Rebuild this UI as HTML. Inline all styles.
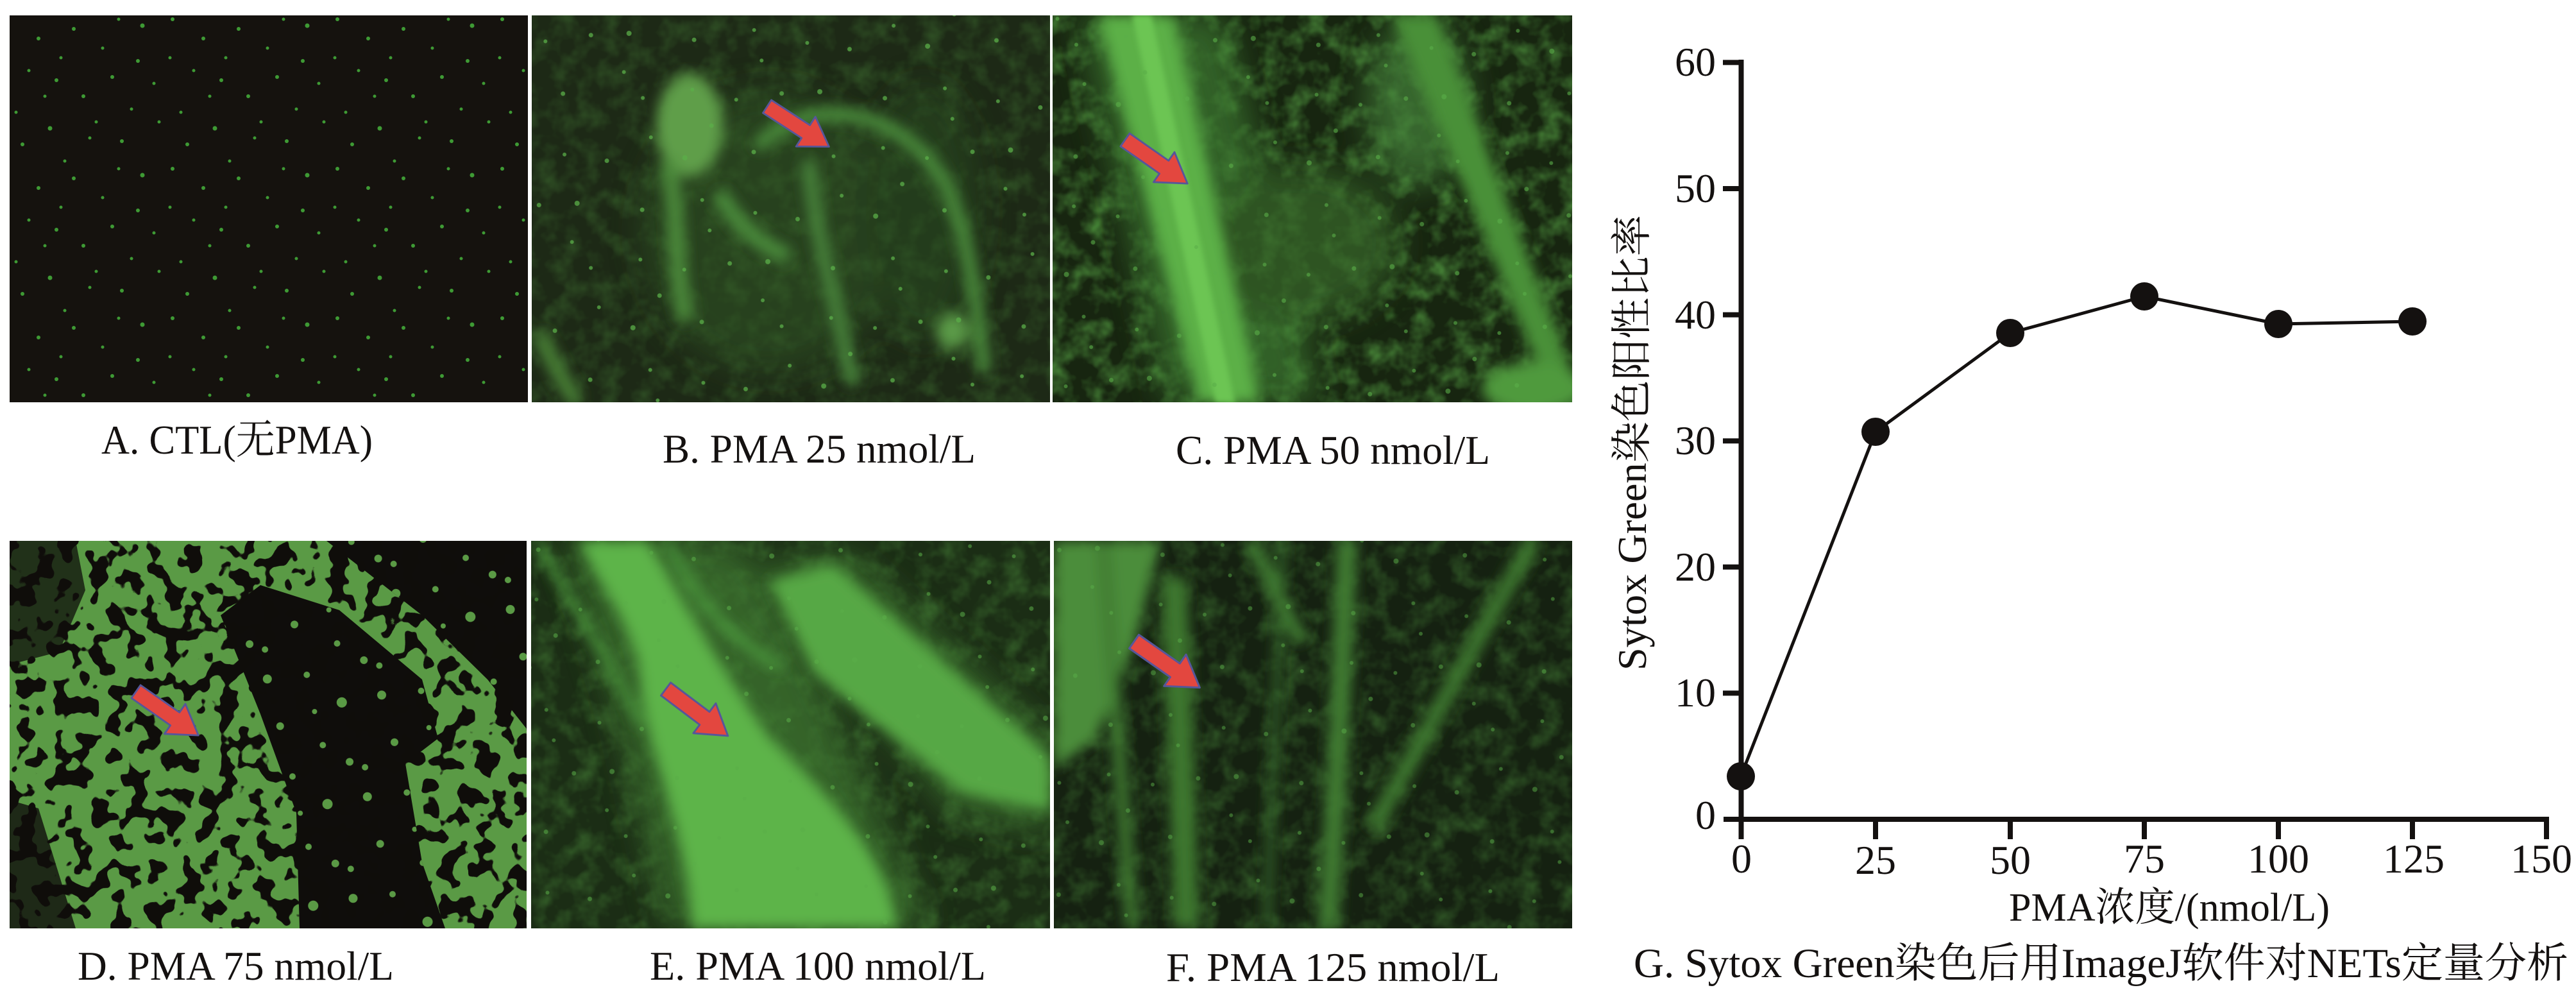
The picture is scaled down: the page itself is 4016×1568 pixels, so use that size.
<!DOCTYPE html>
<html><head><meta charset="utf-8">
<style>
html,body{margin:0;padding:0;background:#ffffff;width:4016px;height:1568px;overflow:hidden;}
svg{display:block;overflow:hidden;}
text{font-family:"Liberation Serif","Noto Serif CJK SC","Noto Sans CJK SC",serif;fill:#141110;}
</style></head><body>
<svg width="4016" height="1568" viewBox="0 0 4016 1568" xmlns="http://www.w3.org/2000/svg" font-family="Liberation Serif, Noto Serif CJK SC, serif">
<defs>
  <clipPath id="cA"><rect x="15" y="24" width="808" height="603"/></clipPath>
  <clipPath id="cB"><rect x="829" y="24" width="808" height="603"/></clipPath>
  <clipPath id="cC"><rect x="1641" y="24" width="810" height="603"/></clipPath>
  <clipPath id="cD"><rect x="15" y="843" width="806" height="604"/></clipPath>
  <clipPath id="cE"><rect x="828" y="843" width="809" height="604"/></clipPath>
  <clipPath id="cF"><rect x="1643" y="843" width="808" height="604"/></clipPath>

  <pattern id="pdA" width="257" height="233" patternUnits="userSpaceOnUse">
    <g fill="#45b23b">
      <circle cx="12" cy="30" r="3"/><circle cx="45" cy="110" r="2.5"/><circle cx="78" cy="200" r="3.5"/>
      <circle cx="101" cy="18" r="2.5"/><circle cx="130" cy="150" r="3"/><circle cx="160" cy="75" r="2.5"/>
      <circle cx="190" cy="220" r="3"/><circle cx="222" cy="40" r="3.5"/><circle cx="240" cy="130" r="2.5"/>
      <circle cx="25" cy="175" r="2.5"/><circle cx="60" cy="60" r="3"/><circle cx="95" cy="90" r="2.5"/>
      <circle cx="140" cy="215" r="2.5"/><circle cx="175" cy="120" r="3"/><circle cx="205" cy="170" r="2.5"/>
      <circle cx="115" cy="45" r="3"/><circle cx="150" cy="190" r="2.5"/><circle cx="35" cy="225" r="3"/>
      <circle cx="70" cy="150" r="2.5"/><circle cx="185" cy="30" r="2.5"/><circle cx="215" cy="95" r="3"/>
      <circle cx="248" cy="190" r="2.5"/><circle cx="88" cy="125" r="3"/><circle cx="8" cy="90" r="2.5"/>
    </g>
  </pattern>
  <pattern id="pdB" width="311" height="277" patternUnits="userSpaceOnUse" patternTransform="rotate(17)">
    <g fill="#5aae48">
      <circle cx="20" cy="40" r="4"/><circle cx="70" cy="130" r="3"/><circle cx="120" cy="20" r="3.5"/>
      <circle cx="160" cy="200" r="4"/><circle cx="210" cy="90" r="3"/><circle cx="260" cy="160" r="3.5"/>
      <circle cx="290" cy="250" r="3"/><circle cx="45" cy="240" r="3.5"/><circle cx="100" cy="185" r="3"/>
      <circle cx="230" cy="20" r="3"/><circle cx="185" cy="140" r="3.5"/><circle cx="140" cy="95" r="3"/>
      <circle cx="30" cy="100" r="3"/><circle cx="275" cy="60" r="3.5"/><circle cx="205" cy="255" r="3"/>
    </g>
  </pattern>
  <pattern id="pdD" width="180" height="160" patternUnits="userSpaceOnUse" patternTransform="rotate(8)">
    <g fill="#5a9a45">
      <circle cx="20" cy="30" r="7"/><circle cx="80" cy="15" r="5"/><circle cx="140" cy="50" r="8"/>
      <circle cx="50" cy="100" r="6"/><circle cx="120" cy="120" r="5"/><circle cx="165" cy="140" r="6"/>
      <circle cx="100" cy="70" r="4"/><circle cx="10" cy="145" r="5"/>
    </g>
  </pattern>

  <filter id="mot" x="0" y="0" width="1" height="1" color-interpolation-filters="sRGB">
    <feTurbulence type="fractalNoise" baseFrequency="0.03" numOctaves="3" seed="2"/>
    <feColorMatrix type="matrix" values="0 0 0 0 0.34  0 0 0 0 0.64  0 0 0 0 0.27  2 0 0 0 -0.8"/>
  </filter>
  <filter id="blotD" x="0" y="0" width="1" height="1" color-interpolation-filters="sRGB">
    <feTurbulence type="fractalNoise" baseFrequency="0.035" numOctaves="2" seed="9"/>
    <feColorMatrix type="matrix" values="0 0 0 0 0.06  0 0 0 0 0.05  0 0 0 0 0.04  40 0 0 0 -21.4"/>
  </filter>
  <filter id="b4" x="-50%" y="-50%" width="200%" height="200%"><feGaussianBlur stdDeviation="4"/></filter>
  <filter id="b10" x="-50%" y="-50%" width="200%" height="200%"><feGaussianBlur stdDeviation="10"/></filter>
  <filter id="b25" x="-50%" y="-50%" width="200%" height="200%"><feGaussianBlur stdDeviation="25"/></filter>

  <polygon id="arrow" points="0,-13 78,-13 78,-30 125,0 78,30 78,13 0,13" fill="#e3473f" stroke="#56569a" stroke-width="3" stroke-linejoin="round"/>
</defs>

<rect x="0" y="0" width="4016" height="1568" fill="#ffffff"/>

<!-- Panel A -->
<g clip-path="url(#cA)">
  <rect x="15" y="24" width="808" height="603" fill="#15120e"/>
  <rect x="15" y="24" width="808" height="603" fill="url(#pdA)" opacity="0.85"/>
</g>

<!-- Panel B -->
<g clip-path="url(#cB)">
  <rect x="829" y="24" width="808" height="603" fill="#1d2916"/>
  <rect x="829" y="24" width="808" height="603" fill="#000" filter="url(#mot)" opacity="0.3"/>
  <g filter="url(#b25)" opacity="0.5">
    <ellipse cx="1200" cy="360" rx="200" ry="220" fill="#335a27"/>
    <ellipse cx="1440" cy="330" rx="90" ry="200" fill="#2c5022"/>
  </g>
  <g filter="url(#b10)">
    <ellipse cx="1075" cy="195" rx="52" ry="80" fill="#5e9e48"/>
    <path d="M1040,250 C1060,330 1050,420 1070,500" stroke="#4b8a3a" stroke-width="26" fill="none"/>
    <path d="M1180,230 C1260,140 1420,170 1480,300 C1510,380 1520,450 1535,580" stroke="#4a8a3b" stroke-width="22" fill="none"/>
    <path d="M1260,250 C1270,360 1300,460 1330,600" stroke="#46833a" stroke-width="22" fill="none"/>
    <path d="M1120,300 C1150,350 1180,380 1230,400" stroke="#4a8a3b" stroke-width="26" fill="none"/>
    <ellipse cx="1485" cy="516" rx="26" ry="28" fill="#5a9a46"/>
    <path d="M840,520 C860,560 880,600 900,627" stroke="#467e36" stroke-width="26" fill="none"/>
  </g>
  <rect x="829" y="24" width="808" height="603" fill="url(#pdB)" opacity="0.75"/>
  <use href="#arrow" transform="translate(1196,166) rotate(33) scale(0.92)"/>
</g>

<!-- Panel C -->
<g clip-path="url(#cC)">
  <rect x="1641" y="24" width="810" height="603" fill="#172510"/>
  <rect x="1641" y="24" width="810" height="603" fill="#000" filter="url(#mot)" opacity="0.7"/>
  <g filter="url(#b25)" opacity="0.7">
    <polygon points="1680,24 1910,24 2060,627 1820,627" fill="#3e7a30"/>
    <ellipse cx="2030" cy="380" rx="150" ry="120" fill="#38682b"/>
    <ellipse cx="2210" cy="160" rx="80" ry="130" fill="#44823a"/>
  </g>
  <g filter="url(#b10)">
    <polygon points="1712,24 1830,24 1965,627 1870,627" fill="#5cb047"/>
    <polygon points="2170,24 2240,24 2451,580 2451,627 2420,627" fill="#4a9038"/>
    <ellipse cx="2390" cy="605" rx="80" ry="40" fill="#4f9a3c"/>
  </g>
  <polygon points="1765,24 1795,24 1925,627 1895,627" fill="#6cc553" filter="url(#b4)"/>
  <rect x="1641" y="24" width="810" height="603" fill="url(#pdB)" opacity="0.6"/>
  <use href="#arrow" transform="translate(1754,218) rotate(35) scale(0.95)"/>
</g>

<!-- Panel D -->
<g clip-path="url(#cD)">
  <rect x="15" y="843" width="806" height="604" fill="#5a9a45"/>
  <g fill="#0f0d0b">
    <polygon points="406,912 529,951 658,1059 683,1151 632,1190 658,1344 694,1447 467,1447 462,1267 406,1113 344,959"/>
    <polygon points="509,843 821,843 821,1136 760,1059 658,959"/>
    <polygon points="15,843 118,843 133,920 92,1016 15,1036" opacity="0.75"/>
    <polygon points="15,1247 60,1260 118,1447 15,1447" opacity="0.8"/>
  </g>
  <rect x="15" y="843" width="806" height="604" fill="#000" filter="url(#blotD)"/>
  <polygon points="406,912 529,951 658,1059 683,1151 632,1190 658,1344 694,1447 467,1447 462,1267 406,1113 344,959" fill="url(#pdD)"/>
  <polygon points="509,843 821,843 821,1136 760,1059 658,959" fill="url(#pdD)"/>
  <use href="#arrow" transform="translate(212,1078) rotate(35) scale(0.95)"/>
</g>

<!-- Panel E -->
<g clip-path="url(#cE)">
  <rect x="828" y="843" width="809" height="604" fill="#1b2d15"/>
  <rect x="828" y="843" width="809" height="604" fill="#000" filter="url(#mot)" opacity="0.4"/>
  <g filter="url(#b25)" opacity="0.7">
    <polygon points="880,843 1150,843 1250,1000 1450,1447 1040,1447 960,1100" fill="#3f7a31"/>
    <polygon points="1180,880 1320,860 1637,1150 1637,1300 1480,1260" fill="#3f7a31"/>
  </g>
  <g filter="url(#b10)">
    <path d="M900,843 C960,950 1000,1000 1000,1080 C1020,1200 1070,1300 1080,1447 L1400,1447 C1380,1330 1300,1250 1200,1150 C1150,1080 1100,1000 1010,843 Z" fill="#5db449"/>
    <polygon points="1200,905 1300,880 1637,1180 1637,1265 1500,1235 1270,1050" fill="#57a844"/>
    <path d="M840,850 C900,950 960,1050 1000,1130" stroke="#4c9a3c" stroke-width="12" fill="none"/>
    <path d="M1040,843 C1080,930 1140,1000 1220,1040" stroke="#4c9a3c" stroke-width="14" fill="none"/>
  </g>
  <rect x="828" y="843" width="809" height="604" fill="url(#pdB)" opacity="0.55"/>
  <use href="#arrow" transform="translate(1038,1074) rotate(37) scale(0.97)"/>
</g>

<!-- Panel F -->
<g clip-path="url(#cF)">
  <rect x="1643" y="843" width="808" height="604" fill="#152111"/>
  <rect x="1643" y="843" width="808" height="604" fill="#000" filter="url(#mot)" opacity="0.4"/>
  <g filter="url(#b10)">
    <polygon points="1643,843 1810,843 1770,1000 1710,1150 1643,1200" fill="#4b8d3b"/>
    <path d="M1720,843 L1765,1447" stroke="#3f7b30" stroke-width="20" fill="none"/>
    <path d="M1830,900 C1840,1100 1845,1300 1850,1447" stroke="#3c772f" stroke-width="40" fill="none"/>
    <path d="M2100,843 C2090,1100 2080,1300 2070,1447" stroke="#3f7b30" stroke-width="32" fill="none"/>
    <path d="M2000,843 L1975,1447" stroke="#35692a" stroke-width="12" fill="none"/>
    <path d="M2390,843 C2300,1000 2220,1150 2140,1290" stroke="#3c772f" stroke-width="26" fill="none"/>
    <path d="M1950,843 C1980,900 2000,950 2030,1000" stroke="#3f7b30" stroke-width="22" fill="none"/>
  </g>
  <rect x="1643" y="843" width="808" height="604" fill="url(#pdB)" opacity="0.5"/>
  <use href="#arrow" transform="translate(1768,1000) rotate(35)"/>
</g>

<!-- Panel captions -->
<g font-family="Liberation Serif, Noto Serif CJK SC, serif" fill="#141110">
<text x="158" y="707" font-size="64" textLength="423" lengthAdjust="spacingAndGlyphs">A. CTL(无PMA)</text>
<text x="1033" y="721" font-size="64" textLength="488" lengthAdjust="spacingAndGlyphs">B. PMA 25 nmol/L</text>
<text x="1833" y="723" font-size="64" textLength="490" lengthAdjust="spacingAndGlyphs">C. PMA 50 nmol/L</text>
<text x="121" y="1527" font-size="64" textLength="493" lengthAdjust="spacingAndGlyphs">D. PMA 75 nmol/L</text>
<text x="1013" y="1527" font-size="64" textLength="524" lengthAdjust="spacingAndGlyphs">E. PMA 100 nmol/L</text>
<text x="1818" y="1529" font-size="64" textLength="520" lengthAdjust="spacingAndGlyphs">F. PMA 125 nmol/L</text>
</g>

<!-- Chart -->
<g stroke="#141110" stroke-width="8" fill="none" stroke-linecap="butt">
  <line x1="2714.5" y1="93" x2="2714.5" y2="1308"/>
  <line x1="2687" y1="1277" x2="3974" y2="1277"/>
  <line x1="2686" y1="97.4" x2="2714" y2="97.4"/>
  <line x1="2686" y1="294" x2="2714" y2="294"/>
  <line x1="2686" y1="490.6" x2="2714" y2="490.6"/>
  <line x1="2686" y1="687.2" x2="2714" y2="687.2"/>
  <line x1="2686" y1="883.8" x2="2714" y2="883.8"/>
  <line x1="2686" y1="1080.4" x2="2714" y2="1080.4"/>
  <line x1="2924" y1="1277" x2="2924" y2="1308"/>
  <line x1="3134" y1="1277" x2="3134" y2="1308"/>
  <line x1="3343" y1="1277" x2="3343" y2="1308"/>
  <line x1="3552" y1="1277" x2="3552" y2="1308"/>
  <line x1="3761" y1="1277" x2="3761" y2="1308"/>
  <line x1="3970" y1="1277" x2="3970" y2="1308"/>
</g>

<g font-size="64" text-anchor="end" font-family="Liberation Serif, serif" fill="#141110">
  <text x="2675" y="118">60</text>
  <text x="2675" y="315">50</text>
  <text x="2675" y="512">40</text>
  <text x="2675" y="708">30</text>
  <text x="2675" y="905">20</text>
  <text x="2675" y="1101">10</text>
  <text x="2675" y="1292">0</text>
</g>
<g font-size="64" text-anchor="middle" font-family="Liberation Serif, serif" fill="#141110">
  <text x="2715" y="1360">0</text>
  <text x="2924" y="1362">25</text>
  <text x="3134" y="1362">50</text>
  <text x="3343" y="1360">75</text>
  <text x="3552" y="1360">100</text>
  <text x="3763" y="1360">125</text>
  <text x="3962" y="1360">150</text>
</g>

<polyline points="2714,1210 2924,673 3134,519 3343,462 3552,505 3761,501" fill="none" stroke="#141110" stroke-width="5" stroke-linejoin="round"/>
<g fill="#141110">
  <circle cx="2714" cy="1210" r="22"/>
  <circle cx="2924" cy="673" r="22"/>
  <circle cx="3134" cy="519" r="22"/>
  <circle cx="3343" cy="462" r="22"/>
  <circle cx="3552" cy="505" r="22"/>
  <circle cx="3761" cy="501" r="22"/>
</g>

<g font-family="Liberation Serif, Noto Serif CJK SC, serif" fill="#141110">
<text x="3132" y="1435" font-size="62" textLength="500" lengthAdjust="spacingAndGlyphs">PMA浓度/(nmol/L)</text>
<text transform="translate(2566,690) rotate(-90)" x="0" y="0" font-size="64" text-anchor="middle" textLength="710" lengthAdjust="spacingAndGlyphs">Sytox Green染色阳性比率</text>
<text x="2547" y="1523" font-size="65" textLength="1457" lengthAdjust="spacingAndGlyphs">G. Sytox Green染色后用ImageJ软件对NETs定量分析</text>
</g>
</svg>
</body></html>
